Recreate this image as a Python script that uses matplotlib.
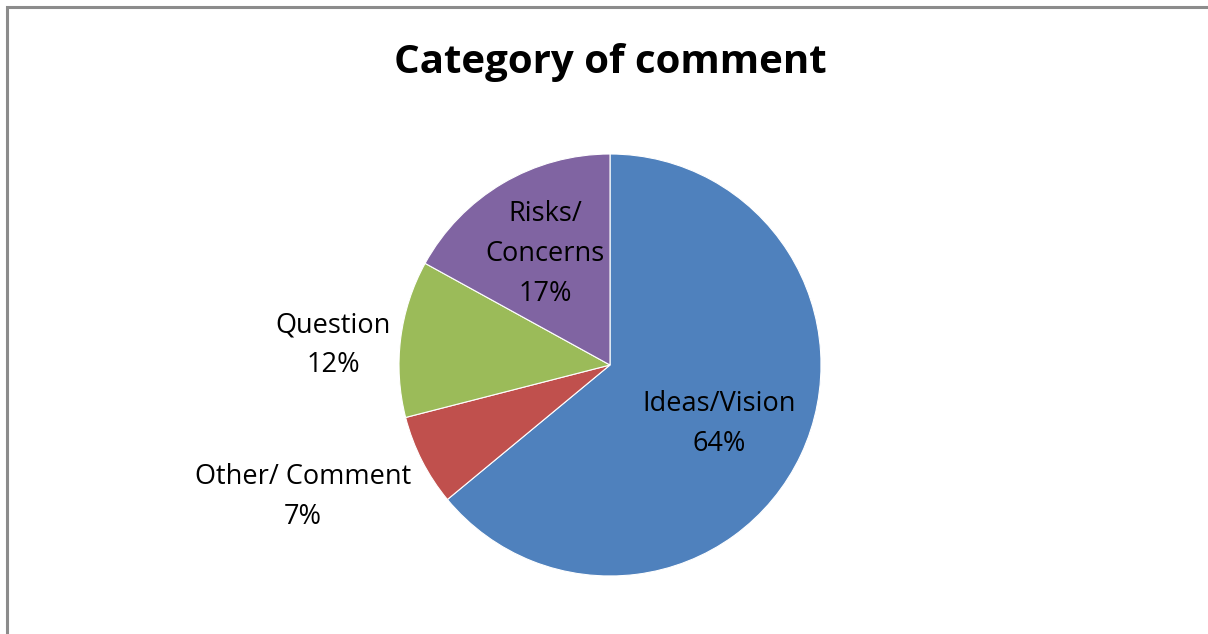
import matplotlib
matplotlib.use("Agg")
import matplotlib.pyplot as plt
from matplotlib.patches import Rectangle

categories = ["Ideas/Vision", "Other/ Comment", "Question", "Risks/\nConcerns"]
shares = [64, 7, 12, 17]
colors = ["#4F81BD", "#C0504D", "#9BBB59", "#8064A2"]

# label anchor points in figure pixels (x from left, y from top)
label_xy = [(719, 424), (303, 497), (333, 345), (545, 254)]

W, H = 1208, 634
fig = plt.figure(figsize=(W / 100, H / 100), dpi=100)
fig.patch.set_facecolor("white")
ax = fig.add_axes([0, 0, 1, 1])

ax.pie(shares, colors=colors, startangle=90, counterclock=False,
       center=(610, H - 365), radius=211,
       wedgeprops=dict(edgecolor="white", linewidth=0.8))

# pie() resets the limits, so set the pixel frame afterwards
ax.set_xlim(0, W)
ax.set_ylim(0, H)
ax.set_aspect("equal")
ax.axis("off")

# chart frame, cropped on the right and bottom
ax.add_patch(Rectangle((7, -20), W + 40, H + 20 - 6.5, fill=False,
                       edgecolor="#8c8c8c", linewidth=2.2))

for name, val, (x, y) in zip(categories, shares, label_xy):
    ax.text(x, H - y, f"{name}\n{val}%", ha="center", va="center",
            fontsize=19.5, family="Open Sans", color="black", linespacing=1.55)

ax.text(610, H - 62, "Category of comment", ha="center", va="center",
        fontsize=29, fontweight="bold", family="Open Sans", color="black")

fig.savefig("out.png", dpi=100)
